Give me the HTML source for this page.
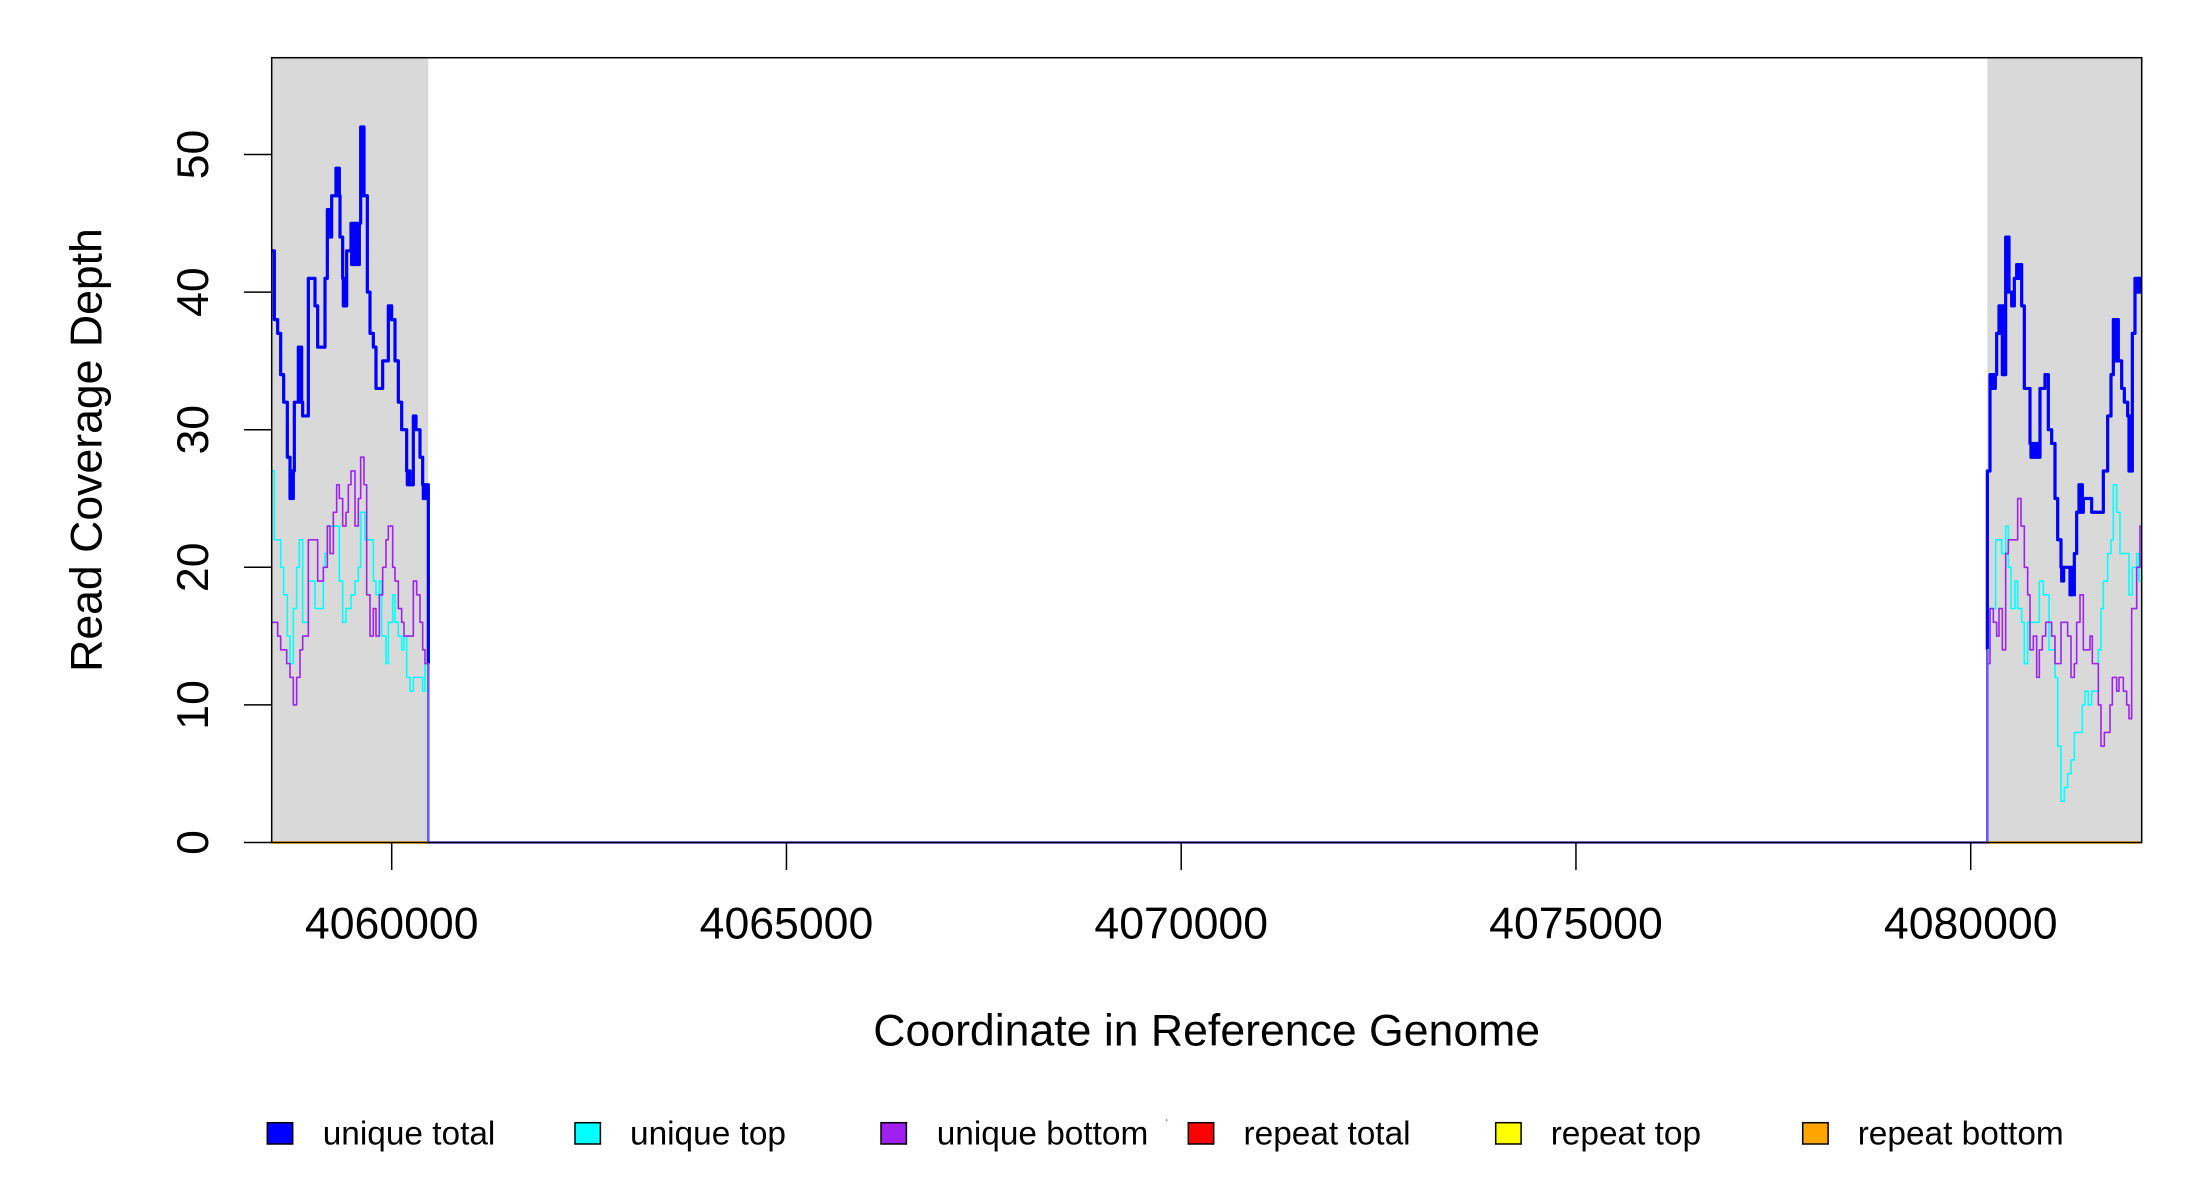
<!DOCTYPE html>
<html>
<head>
<meta charset="utf-8">
<style>
html,body{margin:0;padding:0;background:#fff;}
svg{display:block;}
text{font-family:"Liberation Sans",Arial,sans-serif;fill:#000;}
</style>
</head>
<body>
<svg width="2200" height="1200" viewBox="0 0 2200 1200" xmlns="http://www.w3.org/2000/svg">
<rect x="0" y="0" width="2200" height="1200" fill="#fff"/>
<!-- shaded regions -->
<rect x="271.7" y="57.7" width="156.6" height="784.8" fill="#d9d9d9"/>
<rect x="1987.3" y="57.7" width="154.4" height="784.8" fill="#d9d9d9"/>

<!-- left region data -->
<g transform="translate(240,842.5) scale(0.33333,-13.76)" fill="none" stroke-linejoin="round" stroke-linecap="butt">
<path vector-effect="non-scaling-stroke" stroke="#0000ff" stroke-width="3.2" d="M95 43 H103 V38 H113 V37 H122 V34 H131 V32 H142 V28 H150 V25 H152 V27 H154 V25 H156 V27 H158 V25 H160 V27 H163 V32 H175 V36 H177 V32 H179 V36 H181 V32 H183 V36 H185 V32 H188 V31 H205 V41 H225 V39 H233 V36 H255 V41 H262 V46 H264 V44 H266 V46 H268 V44 H270 V46 H272 V44 H275 V47 H288 V49 H290 V47 H292 V49 H294 V47 H296 V49 H298 V47 H300 V44 H308 V41 H310 V39 H312 V41 H314 V39 H316 V41 H318 V39 H320 V43 H333 V45 H335 V42 H337 V45 H339 V42 H341 V45 H343 V42 H345 V45 H347 V42 H349 V45 H351 V42 H353 V45 H355 V42 H358 V45 H362 V52 H364 V47 H366 V52 H368 V47 H370 V52 H372 V47 H375 V47 H382 V40 H390 V37 H400 V36 H408 V33 H428 V35 H445 V39 H447 V38 H449 V39 H451 V38 H453 V39 H455 V38 H465 V35 H475 V32 H485 V30 H500 V27 H502 V26 H504 V27 H506 V26 H508 V27 H510 V26 H520 V31 H528 V30 H540 V28 H548 V26 H550 V25 H552 V26 H554 V25 H556 V26 H558 V25 H560 V26 H565 V13"/>
<path vector-effect="non-scaling-stroke" stroke="#00ffff" stroke-width="1.6" d="M95 27 H103 V22 H122 V20 H131 V18 H142 V15 H150 V13 H160 V17 H170 V20 H178 V22 H188 V16 H205 V19 H225 V17 H250 V20 H255 V21 H262 V23 H298 V19 H308 V16 H318 V17 H333 V18 H345 V19 H355 V20 H362 V24 H375 V22 H400 V19 H408 V18 H418 V19 H425 V15 H438 V13 H445 V16 H458 V18 H465 V16 H475 V15 H485 V14 H492 V15 H500 V12 H510 V11 H520 V12 H548 V11 H555 V13 H565"/>
<path vector-effect="non-scaling-stroke" stroke="#a020f0" stroke-width="1.6" d="M95 16 H113 V15 H122 V14 H140 V13 H150 V12 H160 V10 H170 V12 H180 V14 H188 V15 H205 V22 H233 V19 H250 V20 H262 V23 H270 V21 H280 V24 H290 V26 H298 V25 H308 V23 H318 V24 H325 V26 H333 V27 H345 V23 H355 V25 H362 V28 H372 V26 H380 V18 H390 V15 H400 V17 H408 V15 H418 V18 H428 V20 H438 V22 H445 V23 H458 V20 H465 V19 H475 V17 H485 V16 H492 V15 H520 V19 H530 V18 H540 V16 H548 V14 H555 V13 H565"/>
</g>

<!-- right region data -->
<g transform="translate(1975,842.5) scale(0.33333,-13.76)" fill="none" stroke-linejoin="round" stroke-linecap="butt">
<path vector-effect="non-scaling-stroke" stroke="#0000ff" stroke-width="3.2" d="M37 14 V27 H45 V34 H47 V33 H49 V34 H51 V33 H53 V34 H55 V33 H57 V34 H59 V33 H61 V34 H65 V37 H72 V39 H74 V37 H76 V39 H78 V37 H80 V39 H82 V34 H84 V39 H86 V34 H88 V39 H90 V34 H92 V44 H94 V40 H96 V44 H98 V40 H100 V44 H102 V40 H110 V39 H118 V41 H125 V42 H127 V41 H129 V42 H131 V41 H133 V42 H135 V41 H137 V42 H140 V39 H148 V33 H165 V29 H168 V28 H171 V29 H174 V28 H177 V29 H180 V28 H183 V29 H186 V28 H189 V29 H192 V28 H195 V33 H210 V34 H220 V30 H230 V29 H240 V25 H248 V22 H258 V20 H260 V19 H262 V20 H264 V19 H266 V20 H285 V18 H287 V20 H289 V18 H291 V20 H293 V18 H298 V21 H305 V24 H312 V26 H314 V24 H316 V26 H318 V24 H320 V26 H322 V24 H325 V25 H350 V24 H385 V27 H398 V31 H408 V34 H415 V38 H417 V35 H419 V38 H421 V35 H423 V38 H425 V35 H427 V38 H430 V35 H440 V33 H448 V32 H458 V31 H462 V27 H464 V31 H466 V27 H468 V31 H470 V27 H472 V37 H480 V41 H482 V40 H484 V41 H486 V40 H488 V41 H490 V40 H492 V41 H494 V40 H496 V41 H500"/>
<path vector-effect="non-scaling-stroke" stroke="#00ffff" stroke-width="1.6" d="M37 14 H45 V17 H62 V22 H80 V21 H92 V23 H100 V20 H108 V17 H120 V19 H128 V17 H140 V16 H148 V13 H158 V16 H193 V19 H205 V18 H222 V14 H240 V12 H248 V7 H258 V3 H268 V4 H278 V5 H288 V6 H298 V8 H322 V10 H330 V11 H340 V10 H350 V11 H370 V14 H378 V17 H385 V19 H398 V21 H408 V22 H415 V26 H425 V24 H435 V21 H462 V18 H472 V20 H485 V21 H492 V19 H500"/>
<path vector-effect="non-scaling-stroke" stroke="#a020f0" stroke-width="1.6" d="M37 13 H45 V17 H55 V16 H65 V15 H72 V17 H82 V14 H92 V21 H100 V22 H128 V25 H138 V23 H148 V20 H158 V18 H165 V14 H175 V15 H185 V12 H193 V14 H202 V15 H212 V16 H230 V15 H240 V13 H258 V16 H278 V15 H288 V12 H298 V13 H305 V16 H315 V18 H325 V14 H345 V15 H352 V13 H370 V10 H378 V7 H388 V8 H405 V10 H412 V12 H425 V11 H432 V12 H445 V11 H455 V10 H462 V9 H470 V17 H485 V20 H495 V23 H500"/>
</g>

<!-- baselines -->
<path d="M428.3 663.6 V842.5 H1987.3 V650" fill="none" stroke="#6658ff" stroke-width="2.6"/>
<path d="M271.7 842.5 H428.3 M1987.3 842.5 H2141.7" fill="none" stroke="#ffa500" stroke-width="2.6"/>

<!-- plot box -->
<rect x="271.7" y="57.7" width="1870" height="784.8" fill="none" stroke="#000" stroke-width="1.5"/>

<!-- y ticks -->
<g stroke="#000" stroke-width="1.5">
<line x1="244" y1="842.5" x2="271.7" y2="842.5"/>
<line x1="244" y1="704.9" x2="271.7" y2="704.9"/>
<line x1="244" y1="567.3" x2="271.7" y2="567.3"/>
<line x1="244" y1="429.7" x2="271.7" y2="429.7"/>
<line x1="244" y1="292.1" x2="271.7" y2="292.1"/>
<line x1="244" y1="154.5" x2="271.7" y2="154.5"/>
</g>
<g font-size="44.6" text-anchor="middle">
<text transform="translate(208,842.5) rotate(-90)">0</text>
<text transform="translate(208,704.9) rotate(-90)">10</text>
<text transform="translate(208,567.3) rotate(-90)">20</text>
<text transform="translate(208,429.7) rotate(-90)">30</text>
<text transform="translate(208,292.1) rotate(-90)">40</text>
<text transform="translate(208,154.5) rotate(-90)">50</text>
</g>

<!-- x ticks -->
<g stroke="#000" stroke-width="1.5">
<line x1="391.7" y1="842.5" x2="391.7" y2="870"/>
<line x1="786.45" y1="842.5" x2="786.45" y2="870"/>
<line x1="1181.2" y1="842.5" x2="1181.2" y2="870"/>
<line x1="1575.95" y1="842.5" x2="1575.95" y2="870"/>
<line x1="1970.7" y1="842.5" x2="1970.7" y2="870"/>
</g>
<g font-size="44.6" text-anchor="middle">
<text x="391.7" y="938.3">4060000</text>
<text x="786.45" y="938.3">4065000</text>
<text x="1181.2" y="938.3">4070000</text>
<text x="1575.95" y="938.3">4075000</text>
<text x="1970.7" y="938.3">4080000</text>
</g>

<!-- axis titles -->
<text x="1206.7" y="1045.7" font-size="44.6" text-anchor="middle">Coordinate in Reference Genome</text>
<text transform="translate(101.7,450) rotate(-90)" font-size="44.6" text-anchor="middle">Read Coverage Depth</text>

<!-- legend -->
<g stroke="#000" stroke-width="1.5">
<rect x="267.3" y="1122.7" width="25.4" height="21.3" fill="#0000ff"/>
<rect x="575" y="1122.7" width="25.4" height="21.3" fill="#00ffff"/>
<rect x="881" y="1122.7" width="25.4" height="21.3" fill="#a020f0"/>
<rect x="1188.3" y="1122.7" width="25.4" height="21.3" fill="#ff0000"/>
<rect x="1495.7" y="1122.7" width="25.4" height="21.3" fill="#ffff00"/>
<rect x="1802.7" y="1122.7" width="25.4" height="21.3" fill="#ffa500"/>
</g>
<circle cx="1166.7" cy="1120" r="0.8" fill="#555"/>
<g font-size="33.4">
<text x="322.7" y="1144.7">unique total</text>
<text x="630" y="1144.7">unique top</text>
<text x="936.7" y="1144.7">unique bottom</text>
<text x="1243.5" y="1144.7">repeat total</text>
<text x="1550.7" y="1144.7">repeat top</text>
<text x="1857.7" y="1144.7">repeat bottom</text>
</g>
</svg>
</body>
</html>
